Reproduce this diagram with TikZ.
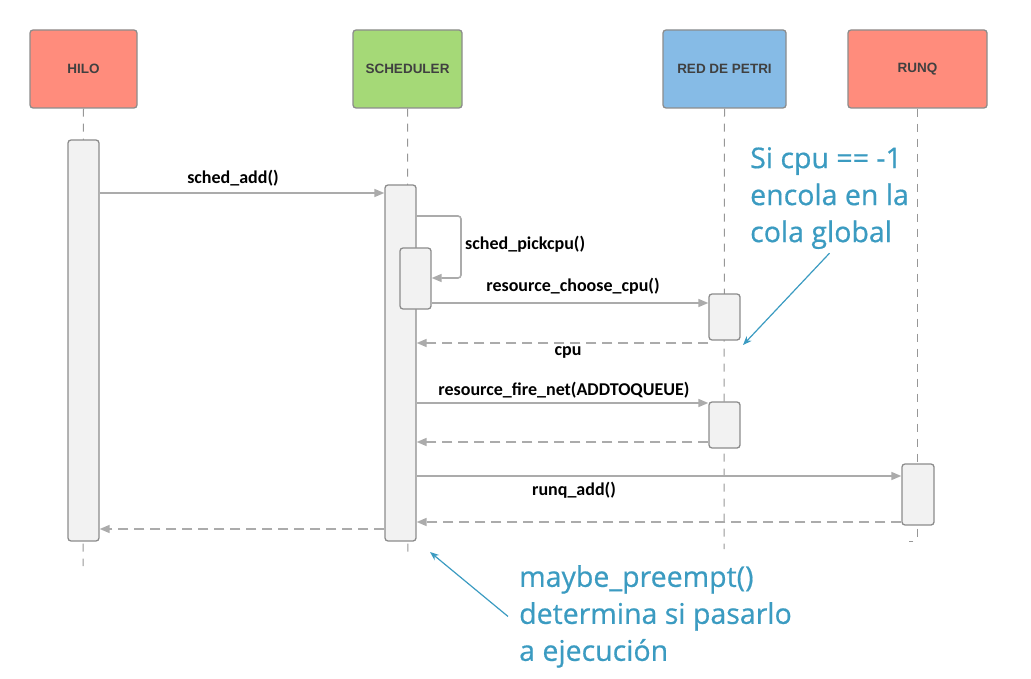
\documentclass[tikz,border=0pt]{standalone}
\usepackage{fontspec}
\setmainfont{Carlito}
\newfontfamily\headfont{Liberation Sans}
\newfontfamily\notefont[FakeBold=0.6]{Open Sans}
\usetikzlibrary{arrows.meta,positioning}
\definecolor{hilored}{HTML}{FF8C7C}
\definecolor{schedgreen}{HTML}{A5D977}
\definecolor{petriblue}{HTML}{86BBE6}
\definecolor{barfill}{HTML}{F2F2F2}
\definecolor{linegray}{HTML}{ABABAB}
\definecolor{edgegray}{HTML}{8C8C8C}
\definecolor{noteblue}{HTML}{3B9BC1}

\begin{document}
\begin{tikzpicture}[
        x=1pt, y=-1pt,
        headbox/.style={
          draw=edgegray,
          line width=1.3pt,
          rounded corners=3pt,
          minimum width=107pt,
          minimum height=78pt,
          font=\headfont\bfseries\fontsize{13.5}{15}\selectfont,
          text=black!75
        },
        actbar/.style={
          draw=edgegray,
          line width=1.3pt,
          rounded corners=3pt,
          fill=barfill,
          minimum width=31pt,
          inner sep=0pt
        },
        life/.style={draw=edgegray!90, line width=1pt, dash pattern=on 8pt off 7pt},
        msg/.style={-{Triangle[length=10pt,width=8pt]}, draw=linegray, line width=1.6pt},
        reply/.style={msg, dash pattern=on 10pt off 6pt},
        lbl/.style={font=\bfseries\fontsize{18}{20}\selectfont, inner sep=0pt},
        note/.style={font=\notefont\fontsize{28.5}{37}\selectfont, text=noteblue,
          align=left, inner sep=0pt},
        pointer/.style={-{Stealth[length=9pt,width=7pt]}, draw=noteblue, line width=1.2pt}
      ]
        \useasboundingbox (0,0) rectangle (1031,679);

        % participants
        \node[headbox, fill=hilored] (hilo) at (83.5,69) {HILO};
        \node[headbox, fill=schedgreen, minimum width=109pt] (sched) at (407.5,69) {SCHEDULER};
        \node[headbox, fill=petriblue, minimum width=123pt] (petri) at (724.5,69) {RED DE PETRI};
        \node[headbox, fill=hilored, minimum width=139pt] (runq) at (917.5,69) {RUNQ};

        % lifelines
        \draw[life] (hilo.south) -- (83,566);
        \draw[life] (sched.south) -- (408,556);
        \draw[life] (petri.south) -- (724,549);
        \draw[life, rounded corners=3pt] (runq.south) |- (909,541);

        % activations
        \node[actbar, minimum height=401pt] (hilobar) at (83.5,340.5) {};
        \node[actbar, minimum height=356pt] (schedbar) at (400.5,363) {};
        \node[actbar, minimum height=61pt] (pickbar) at (415.5,278.5) {};
        \node[actbar, minimum height=46pt] (petrione) at (724.5,317) {};
        \node[actbar, minimum height=46pt] (petritwo) at (724.5,425) {};
        \node[actbar, minimum width=32pt, minimum height=61pt] (runqbar) at (918,494.5) {};

        % messages
        \draw[msg] (hilobar.east |- 0,193) -- (schedbar.west |- 0,193);
        \draw[msg, rounded corners=3pt] (schedbar.east |- 0,216) -| (461,278) -- (pickbar.east |- 0,278);
        \draw[msg] (pickbar.east |- 0,303) -- (petrione.west |- 0,303);
        \draw[reply] (petrione.south west |- 0,343) -- (schedbar.east |- 0,343);
        \draw[msg] (schedbar.east |- 0,403) -- (petritwo.west |- 0,403);
        \draw[reply] (petritwo.west |- 0,442) -- (schedbar.east |- 0,442);
        \draw[msg] (schedbar.east |- 0,476) -- (runqbar.west |- 0,476);
        \draw[reply] (runqbar.west |- 0,522) -- (schedbar.east |- 0,522);
        \draw[reply] (schedbar.west |- 0,529) -- (hilobar.east |- 0,529);

        \node[lbl] (lsa) at (233,178) {sched\_add()};
        \node[lbl, anchor=west] (lpick) at (465,244) {sched\_pickcpu()};
        \node[lbl] (lchoose) at (573,286) {resource\_choose\_cpu()};
        \node[lbl] (lcpu) at (568,352) {cpu};
        \node[lbl] (lfire) at (564,390) {resource\_fire\_net(ADDTOQUEUE)};
        \node[lbl] (lrunq) at (574,490) {runq\_add()};

        % notes
        \node[note, anchor=north west] (cpunote) at (750,147) {Si cpu == -1\\encola en la\\cola global};
        \node[note, anchor=north west] (prenote) at (519,565) {maybe\_preempt()\\determina si pasarlo\\a ejecución};
        \coordinate (cputip) at (743,345);
        \coordinate (pretip) at (430,552);
        \draw[pointer] ([yshift=-4pt]cpunote.south) -- (cputip);
        \draw[pointer] ([xshift=-11pt]prenote.west) -- (pretip);
      \end{tikzpicture}
\end{document}
